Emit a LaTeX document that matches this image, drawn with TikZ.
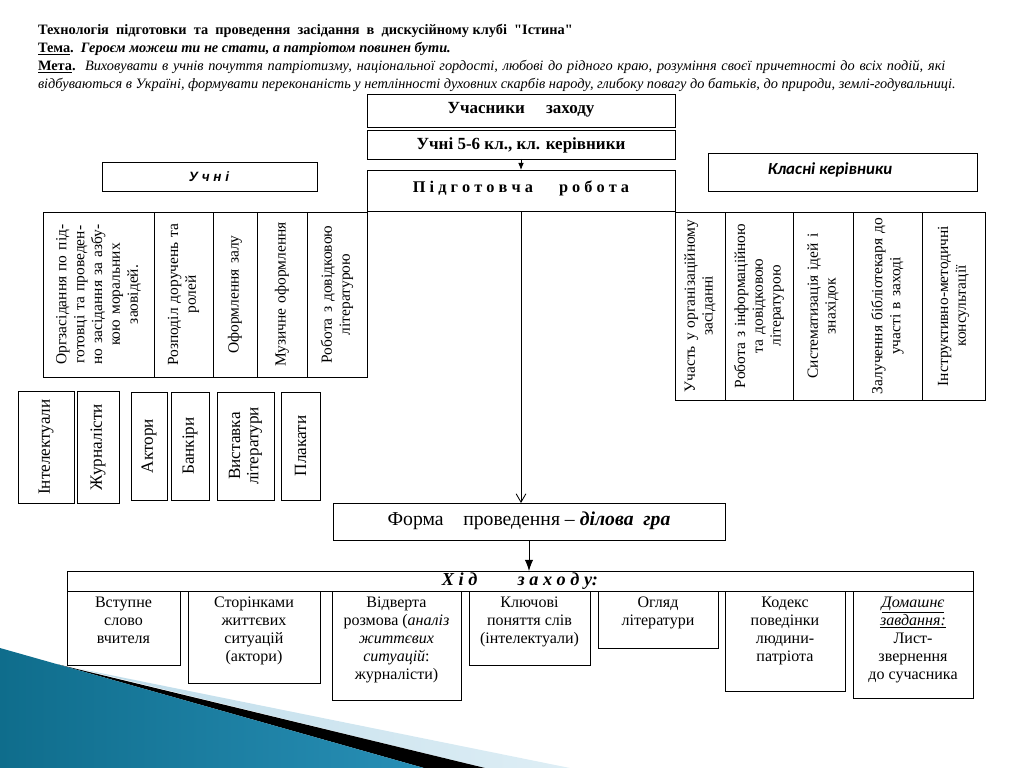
\documentclass[tikz,border=0pt]{standalone}
\usepackage{fontspec}
\setmainfont{Liberation Serif}
\newfontfamily\arialf{Liberation Sans}
\newfontfamily\calf{Carlito}
\usetikzlibrary{arrows.meta}
\newcommand\hfont{\fontsize{10.2pt}{12pt}\selectfont}
\newcommand\rfont{\fontsize{11pt}{12.7pt}\selectfont}
\newcommand\sfontr{\fontsize{12.2pt}{13pt}\selectfont}
\newcommand\bfontb{\fontsize{11.4pt}{12.8pt}\selectfont}
\newcommand\topf{\fontsize{12.1pt}{13pt}\selectfont}
\newcommand\bx[6]{\node[box,#6,minimum width={(#4-#2)*0.025cm},minimum height={(#5-#3)*0.025cm}] (#1) at ({(#2+#4)/2},{(#3+#5)/2}) {};}
\newcommand\rbx[7]{\node[box,rotate=90,minimum width={(#5-#3)*0.025cm},minimum height={(#4-#2)*0.025cm},text width={(#5-#3-6)*0.025cm},align=center,font=#7] (#1) at ({(#2+#4)/2},{(#3+#5)/2}) {#6};}
\begin{document}
\begin{tikzpicture}[x=0.025cm,y=-0.025cm,
  box/.style={draw,line width=0.6pt,inner sep=1pt,outer sep=0pt},
  txt/.style={inner sep=0pt,outer sep=0pt},
  bt/.style={txt,anchor=north,align=center,font=\bfontb},
  arr/.style={line width=0.6pt}]
\useasboundingbox (0,0) rectangle (1024,768);
% decoration
\shade[left color={rgb,255:red,190;green,220;blue,234}, right color={rgb,255:red,222;green,238;blue,245}] (80,668.9) -- (570,768) -- (485,768) -- cycle;
\fill[black] (58,664.4) -- (485,768) -- (424,768) -- cycle;
\shade[left color={rgb,255:red,15;green,109;blue,140}, middle color={rgb,255:red,80;green,180;blue,216}, right color={rgb,255:red,40;green,143;blue,182}] (0,648) -- (424,768) -- (0,768) -- cycle;
% header
\node[txt,anchor=base west] (h1) at (38,34.5) {\hfont\textbf{Технологія\ \ підготовки\ \ та\ \ проведення\ \ засідання\ \ в\ \ дискусійному клубі\ \ \textquotedbl Істина\textquotedbl}};
\node[txt,anchor=base west] (h2) at (38,52.5) {\hfont\underline{\textbf{Тема}}\textbf{.}\ \ \textbf{\textit{Героєм можеш ти не стати, а патріотом повинен бути.}}};
\node[txt,anchor=base west] (h3) at (38,70.5) {\hfont\makebox[22.68cm][s]{\underline{\textbf{Мета}}\textbf{.}\ \ \textit{Виховувати в учнів почуття патріотизму, національної гордості, любові до рідного краю, розуміння своєї причетності до всіх подій, які}}};
\node[txt,anchor=base west] (h4) at (38,88.5) {\hfont\textit{відбуваються в Україні, формувати переконаність у нетлінності духовних скарбів народу, глибоку повагу до батьків, до природи, землі-годувальниці.}};
% top boxes
\bx{uch}{367}{94}{675}{127}{}
\node[txt,font=\topf\bfseries] (ucht) at (521,110) {Учасники\ \ \ \ \ заходу};
\bx{u56}{367}{130}{675}{159}{}
\node[txt,font=\topf\bfseries] (u56t) at (521,145) {Учні 5-6 кл., кл. керівники};
\bx{prep}{367}{170}{675}{211}{}
\node[txt,font=\fontsize{11.6pt}{13pt}\selectfont\bfseries] (prept) at (521,188) {П і д г о т о в ч а\hspace{1.6em}р о б о т а};
\bx{pup}{102}{162}{317}{191}{}
\node[txt,font=\fontsize{9.6pt}{10pt}\arialf\bfseries\itshape] (pupt) at (209,177) {У ч н і};
\bx{tch}{708}{153}{977}{191}{}
\node[txt,font=\fontsize{12pt}{13pt}\calf\bfseries\itshape] (tcht) at (830,170) {Класні керівники};
% left rotated boxes
\rbx{l1}{43}{212}{154}{377}{Оргзасідання по під-\\готовці та проведен-\\но засідання за азбу-\\кою моральних\\заовідей.}{\rfont}
\rbx{l2}{154}{212}{213}{377}{Розподіл доручень та\\ролей}{\rfont}
\rbx{l3}{213}{212}{257}{377}{Оформлення залу}{\rfont}
\rbx{l4}{257}{212}{307}{377}{Музичне оформлення}{\rfont}
\rbx{l5}{307}{212}{367}{377}{Робота з довідковою\\літературою}{\rfont}
% right rotated boxes
\rbx{r1}{675}{212}{725}{400}{Участь у організаційному\\засіданні}{\rfont}
\rbx{r2}{725}{212}{793}{400}{Робота з інформаційною\\та довідковою\\літературою}{\rfont}
\rbx{r3}{793}{212}{853}{400}{Систематизація ідей і\\знахідок}{\rfont}
\rbx{r4}{853}{212}{922}{400}{Залучення бібліотекаря до\\участі в заході}{\rfont}
\rbx{r5}{922}{212}{985}{400}{Інструктивно-методичні\\консультації}{\rfont}
% small role boxes
\rbx{s1}{18}{391}{74}{503}{Інтелектуали}{\sfontr}
\rbx{s2}{77}{391}{119}{503}{Журналісти}{\sfontr}
\rbx{s3}{131}{392}{167}{500}{Актори}{\sfontr}
\rbx{s4}{171}{392}{209}{500}{Банкіри}{\sfontr}
\rbx{s5}{217}{392}{274}{500}{Виставка\\літератури}{\sfontr}
\rbx{s6}{281}{392}{320}{500}{Плакати}{\sfontr}
% form
\bx{form}{333}{503}{725}{540}{}
\node[txt,font=\fontsize{14pt}{15pt}\selectfont] (formt) at (529,521) {Форма\ \ \ \ проведення –\ \textbf{\textit{ділова\ \ гра}}};
\bx{hid}{67}{571}{973}{591}{}
\node[txt,font=\fontsize{13pt}{14pt}\selectfont\bfseries\itshape] (hidt) at (520,581) {Х і д\hspace{2.2em}з а х о д у:};
% bottom boxes
\bx{b1}{67}{591}{180}{665}{}
\node[bt] (b1t) at (123.5,597) {Вступне\\слово\\вчителя};
\bx{b2}{188}{591}{320}{683}{}
\node[bt] (b2t) at (254,597) {Сторінками\\життєвих\\ситуацій\\(актори)};
\bx{b3}{332}{591}{461}{700}{}
\node[bt] (b3t) at (396.5,597) {Відверта\\розмова (\textit{аналіз}\\\textit{життєвих}\\\textit{ситуацій}:\\журналісти)};
\bx{b4}{469}{591}{590}{665}{}
\node[bt] (b4t) at (529.5,597) {Ключові\\поняття слів\\(інтелектуали)};
\bx{b5}{598}{591}{718}{648}{}
\node[bt] (b5t) at (658,597) {Огляд\\літератури};
\bx{b6}{725}{591}{845}{691}{}
\node[bt] (b6t) at (785,597) {Кодекс\\поведінки\\людини-\\патріота};
\bx{b7}{853}{591}{973}{698}{}
\node[bt] (b7t) at (913,597) {\underline{\textit{Домашнє}}\\\underline{\textit{завдання:}}\\Лист-\\звернення\\до сучасника};
% arrows
\draw[arr,-{Latex[length=5pt,width=4pt]}] (u56.south) -- (prep.north);
\draw[arr,-{Straight Barb[length=6pt,width=7pt]}] (prep.south) -- (prep.south |- form.north);
\draw[arr,-{Latex[length=8pt,width=6pt]}] (form.south) -- (form.south |- hid.north);
\end{tikzpicture}
\end{document}
